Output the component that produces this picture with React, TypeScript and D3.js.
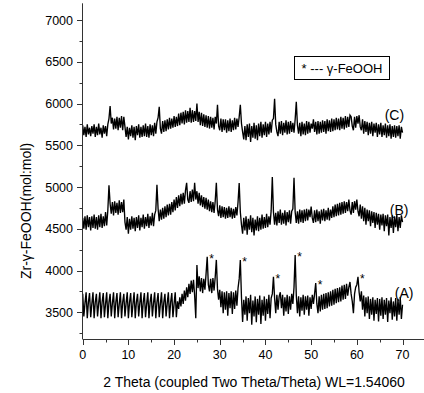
import React from 'react';
import * as d3 from 'd3';

// 2θ sampling grid: 0 .. 70 degrees, 0.25 degree step (281 samples)
const STEP = 0.25;

// Sample (C)
const seriesC: number[] = [
  5740, 5620, 5720, 5600, 5750, 5630, 5710, 5610,
  5730, 5640, 5750, 5600, 5720, 5620, 5760, 5630,
  5710, 5590, 5740, 5640, 5730, 5610, 5750, 5820,
  5970, 5760, 5830, 5690, 5820, 5700, 5840, 5680,
  5830, 5710, 5850, 5680, 5840, 5720, 5600, 5720,
  5570, 5710, 5610, 5740, 5590, 5720, 5560, 5730,
  5620, 5750, 5590, 5720, 5600, 5740, 5610, 5760,
  5600, 5730, 5590, 5750, 5620, 5740, 5610, 5770,
  5640, 5780, 5830, 5960, 5700, 5640, 5790, 5660,
  5800, 5670, 5810, 5690, 5830, 5700, 5820, 5710,
  5850, 5720, 5840, 5730, 5880, 5740, 5890, 5760,
  5900, 5750, 5920, 5770, 5910, 5780, 5950, 5770,
  5920, 5780, 5910, 5790, 6000, 5780, 5900, 5740,
  5890, 5730, 5870, 5720, 5860, 5710, 5850, 5700,
  5840, 5710, 5830, 5690, 5840, 5760, 5985, 5730,
  5680, 5820, 5660, 5810, 5680, 5810, 5650, 5800,
  5670, 5820, 5660, 5800, 5680, 5830, 5690, 5820,
  5720, 5840, 5985, 5760, 5660, 5570, 5730, 5560,
  5750, 5600, 5760, 5540, 5730, 5590, 5770, 5580,
  5740, 5560, 5760, 5610, 5780, 5590, 5750, 5620,
  5780, 5600, 5760, 5630, 5780, 5650, 5800, 5820,
  6057, 5750, 5660, 5610, 5780, 5640, 5790, 5620,
  5770, 5650, 5800, 5630, 5780, 5640, 5790, 5660,
  5770, 5650, 5810, 6020, 5740, 5640, 5770, 5610,
  5780, 5630, 5760, 5620, 5790, 5640, 5780, 5650,
  5760, 5700, 5810, 5660, 5780, 5630, 5790, 5640,
  5780, 5650, 5800, 5660, 5790, 5640, 5810, 5670,
  5800, 5660, 5820, 5670, 5810, 5680, 5830, 5690,
  5820, 5680, 5840, 5700, 5830, 5690, 5850, 5710,
  5840, 5720, 5860, 5840, 5730, 5680, 5840, 5710,
  5850, 5760, 5860, 5720, 5680, 5810, 5640, 5790,
  5660, 5780, 5620, 5770, 5640, 5780, 5610, 5760,
  5650, 5770, 5600, 5750, 5630, 5770, 5600, 5740,
  5620, 5760, 5590, 5740, 5610, 5750, 5580, 5730,
  5600, 5740, 5590, 5730, 5610, 5740, 5580, 5720,
  5650,
];

// Sample (B)
const seriesB: number[] = [
  4630, 4500, 4650, 4490, 4660, 4520, 4640, 4480,
  4650, 4510, 4670, 4500, 4640, 4490, 4660, 4520,
  4680, 4510, 4650, 4530, 4700, 4540, 4720, 5020,
  4800, 4680, 4820, 4660, 4830, 4690, 4810, 4670,
  4840, 4690, 4820, 4700, 4850, 4580, 4490, 4640,
  4440, 4620, 4490, 4650, 4500, 4630, 4470, 4640,
  4510, 4660, 4480, 4630, 4520, 4670, 4500, 4640,
  4530, 4680, 4510, 4650, 4540, 4690, 4530, 4670,
  4720, 5026, 4740, 4590, 4730, 4610, 4750, 4620,
  4770, 4640, 4790, 4660, 4800, 4670, 4820, 4700,
  4850, 4720, 4880, 4750, 4900, 4770, 4920, 4790,
  4930, 4800, 4960, 5050, 4850, 4810, 4950, 4820,
  4970, 4830, 5050, 4850, 4950, 4800, 4930, 4780,
  4900, 4760, 4880, 4740, 4870, 4730, 4850, 4710,
  4830, 4700, 4820, 4690, 4830, 5050, 4730, 4650,
  4780, 4630, 4770, 4640, 4760, 4620, 4750, 4630,
  4770, 4640, 4750, 4620, 4740, 4630, 4760, 4660,
  4820, 5047, 4700, 4550, 4440, 4630, 4480, 4650,
  4430, 4620, 4490, 4660, 4460, 4630, 4420, 4610,
  4480, 4650, 4470, 4630, 4490, 4670, 4500, 4640,
  4510, 4680, 4520, 4650, 4550, 4720, 5120, 4700,
  4550, 4690, 4540, 4710, 4570, 4730, 4550, 4690,
  4560, 4720, 4540, 4700, 4580, 4720, 4560, 4710,
  4740, 5110, 4700, 4570, 4710, 4560, 4730, 4580,
  4720, 4570, 4730, 4590, 4740, 4600, 4730, 4640,
  4765, 4630, 4570, 4720, 4580, 4730, 4590, 4710,
  4560, 4730, 4600, 4740, 4590, 4720, 4610, 4750,
  4600, 4730, 4630, 4770, 4640, 4790, 4650, 4800,
  4660, 4810, 4670, 4820, 4680, 4830, 4690, 4820,
  4710, 4850, 4720, 4670, 4820, 4690, 4830, 4730,
  4850, 4710, 4650, 4790, 4620, 4770, 4590, 4750,
  4550, 4730, 4590, 4720, 4530, 4710, 4570, 4700,
  4510, 4690, 4550, 4680, 4490, 4670, 4540, 4680,
  4470, 4660, 4530, 4670, 4420, 4640, 4510, 4660,
  4450, 4650, 4520, 4670, 4470, 4640, 4510, 4660,
  4580,
];

// Sample (A)
const seriesA: number[] = [
  3720, 3450, 3610, 3740, 3430, 3620, 3730, 3440, 3600, 3740, 3430, 3620,
  3720, 3450, 3610, 3740, 3430, 3620, 3730, 3440, 3600, 3740, 3430, 3620,
  3720, 3450, 3610, 3740, 3430, 3620, 3730, 3440, 3600, 3740, 3430, 3620,
  3720, 3450, 3610, 3740, 3430, 3620, 3730, 3440, 3600, 3740, 3430, 3620,
  3720, 3450, 3610, 3740, 3430, 3620, 3730, 3440, 3600, 3740, 3430, 3620,
  3720, 3450, 3610, 3740, 3430, 3620, 3730, 3440, 3600, 3740, 3430, 3620,
  3720, 3450, 3610, 3740, 3430, 3620, 3730, 3440, 3600, 3740, 3440, 3630,
  3540, 3680, 3570, 3720, 3600, 3760, 3640, 3800,
  3680, 3840, 3720, 3880, 3740, 3890, 3700, 3430,
  4067, 3790, 3930, 3750, 3910, 3730, 3900, 3770,
  3960, 4165, 3830, 3750, 3900, 3730, 3910, 3760,
  3920, 4127, 3780, 3650, 3770, 3560, 3750, 3490,
  3740, 3530, 3750, 3460, 3730, 3550, 3750, 3480,
  3740, 3540, 3760, 3580, 3790, 3900, 4127, 3680,
  3385, 3650, 3470, 3690, 3400, 3670, 3490, 3710,
  3350, 3640, 3450, 3690, 3380, 3660, 3470, 3700,
  3360, 3650, 3460, 3690, 3400, 3660, 3480, 3710,
  3430, 3670, 3720, 3925, 3670, 3490, 3710, 3530,
  3690, 3740, 3550, 3710, 3460, 3680, 3510, 3710,
  3480, 3690, 3530, 3720, 3600, 3800, 4187, 3700,
  3490, 3690, 3450, 3680, 3520, 3710, 3470, 3690,
  3530, 3700, 3460, 3680, 3540, 3710, 3600, 3720,
  3850, 3600, 3490, 3690, 3510, 3710, 3530, 3720,
  3540, 3730, 3550, 3740, 3570, 3750, 3580, 3770,
  3590, 3780, 3610, 3790, 3620, 3800, 3630, 3820,
  3650, 3830, 3660, 3840, 3700, 3800, 3863, 3720,
  3630, 3490, 3720, 3800, 3830, 3925, 3740, 3630,
  3750, 3530, 3700, 3450, 3680, 3490, 3690, 3420,
  3660, 3470, 3680, 3400, 3650, 3480, 3670, 3390,
  3660, 3460, 3680, 3420, 3650, 3470, 3670, 3385,
  3640, 3490, 3680, 3410, 3630, 3450, 3670, 3400,
  3660, 3470, 3680, 3420,
  3590,
];

const xTicks = [0, 10, 20, 30, 40, 50, 60, 70];
const xMinorTicks = [5, 15, 25, 35, 45, 55, 65];
const yTicks = [3500, 4000, 4500, 5000, 5500, 6000, 6500, 7000];
const yMinorTicks = [3250, 3750, 4250, 4750, 5250, 5750, 6250, 6750];

// γ-FeOOH reflections marked on sample (A), 2θ in degrees
const markedPeaks = [27.25, 34.5, 41.75, 46.5, 51.0, 60.25];

const seriesNames = ['(A)', '(B)', '(C)'];
const seriesLabelX = [68.3, 67.2, 66.1];
const seriesLabelY = [3731, 4727, 5866];

const xTitle = '2 Theta (coupled Two Theta/Theta) WL=1.54060';
const yTitle = 'Zr-\u03b3-FeOOH(mol:mol)';
const legendText = '* --- \u03b3-FeOOH';

const W = 424;
const H = 393;
const FONT = '"Liberation Sans", Arial, sans-serif';

export default function App() {
  const x = d3.scaleLinear().domain([0, 74.7]).range([82.7, 424]);
  const y = d3.scaleLinear().domain([3180, 7200]).range([339, 3.3]);

  const line = d3
    .line<number>()
    .x((_, i) => x(i * STEP))
    .y((d) => y(d));

  const series = [seriesA, seriesB, seriesC];
  const axisColor = '#333';

  return (
    <div style={{ position: 'absolute', left: 0, top: 0 }}>
      <svg width={W} height={H} style={{ display: 'block', background: '#fff' }} fontFamily={FONT}>
        {/* traces */}
        {series.map((s, k) => (
          <path key={k} d={line(s) || ''} fill="none" stroke="#000" strokeWidth={1.35} strokeLinejoin="miter" />
        ))}

        {/* asterisks on peaks of (A) */}
        {markedPeaks.map((p, i) => {
          const idx = Math.round(p / STEP);
          const v = seriesA[idx];
          return (
            <text key={i} x={x(p) + 2} y={y(v) + 6} fontSize={12} fill="#000">
              *
            </text>
          );
        })}

        {/* series labels */}
        {seriesNames.map((n, i) => (
          <text key={n} x={x(seriesLabelX[i])} y={y(seriesLabelY[i]) + 5} fontSize={14} fill="#000">
            {n}
          </text>
        ))}

        {/* y axis */}
        <line x1={82.5} x2={82.5} y1={y(7200)} y2={y(3180)} stroke={axisColor} />
        {yTicks.map((t) => (
          <g key={t}>
            <line x1={77} x2={82.5} y1={Math.round(y(t)) + 0.5} y2={Math.round(y(t)) + 0.5} stroke={axisColor} />
            <text x={73} y={y(t) + 4.5} fontSize={12.5} textAnchor="end" fill="#000">
              {t}
            </text>
          </g>
        ))}
        {yMinorTicks.map((t) => (
          <line key={t} x1={79.5} x2={82.5} y1={Math.round(y(t)) + 0.5} y2={Math.round(y(t)) + 0.5} stroke={axisColor} />
        ))}

        {/* x axis */}
        <line x1={82.5} x2={424} y1={339.5} y2={339.5} stroke={axisColor} />
        {xTicks.map((t) => (
          <g key={t}>
            <line x1={Math.round(x(t)) + 0.5} x2={Math.round(x(t)) + 0.5} y1={339.5} y2={345} stroke={axisColor} />
            <text x={x(t)} y={359} fontSize={12.5} textAnchor="middle" fill="#000">
              {t}
            </text>
          </g>
        ))}
        {xMinorTicks.map((t) => (
          <line key={t} x1={Math.round(x(t)) + 0.5} x2={Math.round(x(t)) + 0.5} y1={339.5} y2={342.5} stroke={axisColor} />
        ))}

        {/* axis titles */}
        <text x={254} y={387} fontSize={14} textAnchor="middle" fill="#000">
          {xTitle}
        </text>
        <text
          transform={`translate(31,211) rotate(-90)`}
          fontSize={14}
          textAnchor="middle"
          fill="#000"
        >
          {yTitle}
        </text>

        {/* legend box */}
        <rect x={294.5} y={56.5} width={95} height={23} fill="#fff" stroke="#000" strokeWidth={1} />
        <text x={342} y={72.5} fontSize={13} textAnchor="middle" fill="#000">
          {legendText}
        </text>
      </svg>
    </div>
  );
}
